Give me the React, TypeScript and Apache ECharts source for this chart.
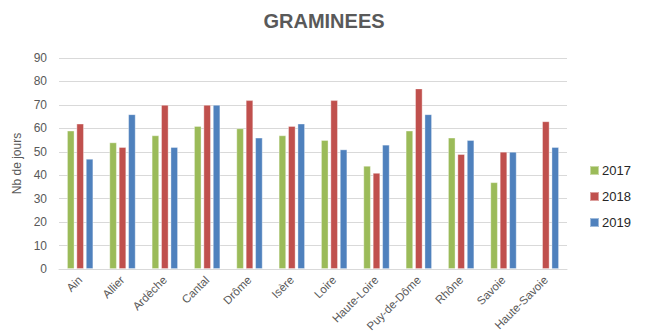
import React, { useEffect, useRef } from "react";
import * as echarts from "echarts";

const categories = ["Ain", "Allier", "Ardèche", "Cantal", "Drôme", "Isère", "Loire", "Haute-Loire", "Puy-de-Dôme", "Rhône", "Savoie", "Haute-Savoie"];
const years = ["2017", "2018", "2019"];
const values2017 = [59, 54, 57, 61, 60, 57, 55, 44, 59, 56, 37, null];
const values2018 = [62, 52, 70, 70, 72, 61, 72, 41, 77, 49, 50, 63];
const values2019 = [47, 66, 52, 70, 56, 62, 51, 53, 66, 55, 50, 52];
const colors = ["#9BBB59", "#C0504D", "#4F81BD"];

export default function App() {
  const ref = useRef<HTMLDivElement>(null);
  useEffect(() => {
    if (!ref.current) return;
    const chart = echarts.init(ref.current, null, { renderer: "svg" });
    const font = "'Liberation Sans', Arial, sans-serif";
    const data = [values2017, values2018, values2019];
    chart.setOption({
      animation: false,
      textStyle: { fontFamily: font },
      title: {
        text: "GRAMINEES",
        left: "center",
        top: 11,
        padding: 0,
        textStyle: { fontSize: 20, fontWeight: "bold", color: "#595959", fontFamily: font },
      },
      legend: {
        orient: "vertical",
        left: 589,
        top: 164,
        padding: 0,
        itemWidth: 9,
        itemHeight: 9,
        itemGap: 13,
        icon: "rect",
        data: years,
        textStyle: { fontSize: 13, color: "#262626", padding: [0, 0, 0, -2] },
      },
      grid: { left: 59, right: 81, top: 58, bottom: 67, containLabel: false },
      xAxis: {
        type: "category",
        data: categories,
        axisLine: { lineStyle: { color: "#D9D9D9", width: 1 } },
        axisTick: { show: false },
        axisLabel: { rotate: 45, color: "#595959", fontSize: 11.5, margin: 9, interval: 0 },
      },
      yAxis: {
        type: "value",
        min: 0,
        max: 90,
        interval: 10,
        name: "Nb de jours",
        nameLocation: "middle",
        nameGap: 30,
        nameTextStyle: { fontSize: 12, color: "#595959" },
        axisLine: { show: false },
        axisTick: { show: false },
        axisLabel: { color: "#595959", fontSize: 12, margin: 12 },
        splitLine: { lineStyle: { color: "#D9D9D9", width: 1 } },
      },
      series: years.map((y, i) => ({
        name: y,
        type: "bar",
        data: data[i],
        barCategoryGap: "38%",
        barGap: "27%",
        itemStyle: { color: colors[i], borderColor: "rgba(255,255,255,0.45)", borderWidth: 0.8 },
      })),
    });
    return () => chart.dispose();
  }, []);
  return <div ref={ref} style={{ width: 648, height: 336, position: "absolute", left: 0, top: 0 }} />;
}
